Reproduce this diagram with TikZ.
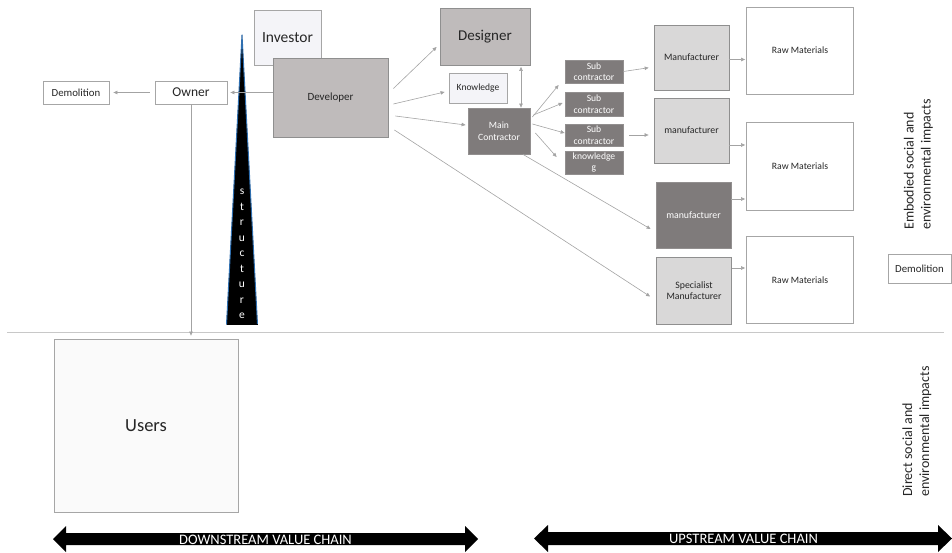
\documentclass[tikz,border=0pt]{standalone}
\usepackage{fontspec}
\setmainfont{Carlito}
\usetikzlibrary{arrows.meta,calc}
\definecolor{lightbox}{HTML}{F4F4F8}
\definecolor{midgray}{HTML}{BFBBBB}
\definecolor{darkbox}{HTML}{7F7B7B}
\definecolor{lightgray}{HTML}{D9D8D8}
\definecolor{userfill}{HTML}{FAFAFA}
\definecolor{bordergray}{HTML}{8F8F8F}
\definecolor{wborder}{HTML}{A6A6A6}
\definecolor{conline}{HTML}{A3A3A3}
\definecolor{sepline}{HTML}{C8C8C8}
\definecolor{strblue}{HTML}{2F6FB0}
\tikzset{
  box/.style={draw=bordergray, line width=0.8pt, inner sep=1pt, align=center, text=black!85},
  wbox/.style={box, draw=wborder, fill=white},
  lbox/.style={box, fill=lightbox, draw=wborder},
  gbox/.style={box, fill=midgray},
  dbox/.style={box, fill=darkbox, draw=darkbox!85!white, text=white},
  lgbox/.style={box, fill=lightgray},
  con/.style={draw=conline, line width=0.6pt, -{Triangle[length=4pt,width=3.5pt]}},
  dcon/.style={draw=conline, line width=0.6pt, {Triangle[length=4pt,width=3.5pt]}-{Triangle[length=4pt,width=3.5pt]}},
  sidetext/.style={rotate=90, anchor=west, align=left, font=\fontsize{14}{17}\selectfont, text=black!85, inner sep=0pt},
  chain/.style={text=white, font=\fontsize{14.5}{16}\selectfont, inner sep=0pt}
}
\begin{document}
\begin{tikzpicture}[x=1pt,y=-1pt]
\useasboundingbox (0,0) rectangle (952,553);

% separator
\draw[sepline, line width=0.8pt] (7,332) -- (944,332);

% left side
\node[lbox, minimum width=67, minimum height=55, font=\fontsize{15.5}{18}\selectfont] (inv) at (287.5,37.5) {Investor};
\node[gbox, minimum width=115, minimum height=79, font=\fontsize{11}{13}\selectfont] (dev) at (330.5,97.5) {Developer};
\node[wbox, minimum width=72, minimum height=23, font=\fontsize{13.5}{15}\selectfont] (own) at (191,92.5) {Owner};
\node[wbox, minimum width=66, minimum height=23, font=\fontsize{10.8}{13}\selectfont] (deml) at (76,92.5) {Demolition};
\node[box, fill=userfill, draw=wborder, minimum width=184, minimum height=173, font=\fontsize{18.5}{21}\selectfont] (users) at (146,425.5) {Users};

% structure
\fill[black] (242,35) -- (257.5,324.5) -- (226.5,324.5) -- cycle;
\draw[strblue, line width=1pt, line join=round] (226.5,324.5) -- (242,35) -- (257.5,324.5);
\draw[black, line width=1pt] (226.5,324.5) -- (257.5,324.5);
\node[text=white, align=center, inner sep=0pt, font=\fontsize{11.5}{15.5}\selectfont] (str) at (242,254) {s\\t\\r\\u\\c\\t\\u\\r\\e};

% middle
\node[gbox, minimum width=90, minimum height=57, font=\fontsize{15}{17}\selectfont] (des) at (485,36.5) {Designer};
\node[lbox, minimum width=58, minimum height=30, font=\fontsize{9.5}{11}\selectfont] (know) at (478,88) {Knowledge};
\node[dbox, minimum width=62, minimum height=46, font=\fontsize{9.6}{11.5}\selectfont] (mc) at (499,131) {Main\\Contractor};
\node[dbox, minimum width=58, minimum height=23, font=\fontsize{9.6}{11.5}\selectfont] (s1) at (594,71.5) {Sub\\contractor};
\node[dbox, minimum width=58, minimum height=24, font=\fontsize{9.6}{11.5}\selectfont] (s2) at (594,104) {Sub\\contractor};
\node[dbox, minimum width=58, minimum height=22, font=\fontsize{9.6}{11.5}\selectfont] (s3) at (594,135) {Sub\\contractor};
\node[dbox, minimum width=58, minimum height=23, font=\fontsize{9.6}{11.5}\selectfont] (kg) at (594,162.5) {knowledge\\g};

% manufacturers
\node[lgbox, minimum width=75, minimum height=65, font=\fontsize{9.8}{11.5}\selectfont] (m1) at (691.5,57.5) {Manufacturer};
\node[lgbox, minimum width=75, minimum height=65, font=\fontsize{9.8}{11.5}\selectfont] (m2) at (691.5,130.5) {manufacturer};
\node[dbox, minimum width=75, minimum height=66, font=\fontsize{9.8}{11.5}\selectfont] (m3) at (693.5,215) {manufacturer};
\node[lgbox, minimum width=75, minimum height=67, font=\fontsize{9.8}{11.5}\selectfont] (spec) at (694,290.5) {Specialist\\Manufacturer};

% raw materials
\node[wbox, minimum width=107, minimum height=87, font=\fontsize{9.7}{11.5}\selectfont] (rm1) at (800,50.5) {Raw Materials};
\node[wbox, minimum width=107, minimum height=88, font=\fontsize{9.7}{11.5}\selectfont] (rm2) at (800,166) {Raw Materials};
\node[wbox, minimum width=107, minimum height=87, font=\fontsize{9.7}{11.5}\selectfont] (rm3) at (800,280) {Raw Materials};

\node[wbox, minimum width=63, minimum height=29, font=\fontsize{10.8}{13}\selectfont] (demr) at (919.5,268.5) {Demolition};

% side texts
\node[sidetext] (emb) at (918.5,230) {Embodied social and\\environmental impacts};
\node[sidetext] (dir) at (917,497) {Direct social and\\environmental impacts};

% connector start points
\coordinate (a1) at ($(m1.east)+(0,2)$);
\coordinate (a2) at ($(m2.east)+(0,14.5)$);
\coordinate (a3) at ($(m3.east)+(0,-16)$);
\coordinate (a4) at ($(spec.east)+(0,-22.5)$);

% connectors
\draw[con, shorten >=3pt] (dev.west |- own.east) -- (own.east);
\draw[con, shorten <=5pt, shorten >=4pt] (own.west) -- (deml.east);
\draw[con, shorten >=3pt] (own.south) -- (users.north -| own.south);
\draw[con] ($(dev.east)+(5,-9)$) -- ($(des.west)+(-3,10.5)$);
\draw[con] ($(dev.east)+(5,6.5)$) -- ($(know.west)+(-4,4)$);
\draw[con] ($(dev.east)+(7,18.5)$) -- ($(mc.west)+(-2,-6)$);
\draw[con] ($(dev.east)+(6,32.5)$) -- ($(spec.west)+(-6,6)$);
\draw[con] ($(mc.south)+(24,0)$) -- ($(m3.west)+(-5,14)$);
\draw[dcon, shorten <=1.5pt] ($(des.south)+(36,0)$) -- ($(mc.north)+(22,0)$);
\draw[con] ($(mc.east)+(2,-14)$) -- ($(s1.west)+(-6,13.5)$);
\draw[con] ($(mc.east)+(3,-16)$) -- ($(s2.west)+(-2,-1)$);
\draw[con] ($(mc.east)+(2,-7)$) -- ($(s3.west)+(0,-2)$);
\draw[con] ($(mc.east)+(5,2)$) -- ($(kg.west)+(-8,-5.5)$);
\draw[con, shorten >=5pt] (s1.east) -- ($(m1.west)+(0,9.5)$);
\draw[con, shorten <=6pt, shorten >=5pt] (s3.east) -- (s3.east -| m2.west);
\draw[con, shorten >=1pt] (a1) -- (a1 -| rm1.west);
\draw[con, shorten >=1pt] (a2) -- (a2 -| rm2.west);
\draw[con, shorten >=1pt] (a3) -- (a3 -| rm2.west);
\draw[con, shorten >=1pt] (a4) -- (a4 -| rm3.west);

% value chain arrows
\fill[black] (53,539) -- (66,526) -- (66,533) -- (465,533) -- (465,526) -- (478,539) -- (465,552) -- (465,545) -- (66,545) -- (66,552) -- cycle;
\node[chain] (down) at (265.5,539.5) {DOWNSTREAM VALUE CHAIN};
\fill[black] (534,538.5) -- (548,525) -- (548,532) -- (938,532) -- (938,525) -- (952,538.5) -- (938,552) -- (938,545) -- (548,545) -- (548,552) -- cycle;
\node[chain] (up) at (743.5,539) {UPSTREAM VALUE CHAIN};
\end{tikzpicture}
\end{document}
